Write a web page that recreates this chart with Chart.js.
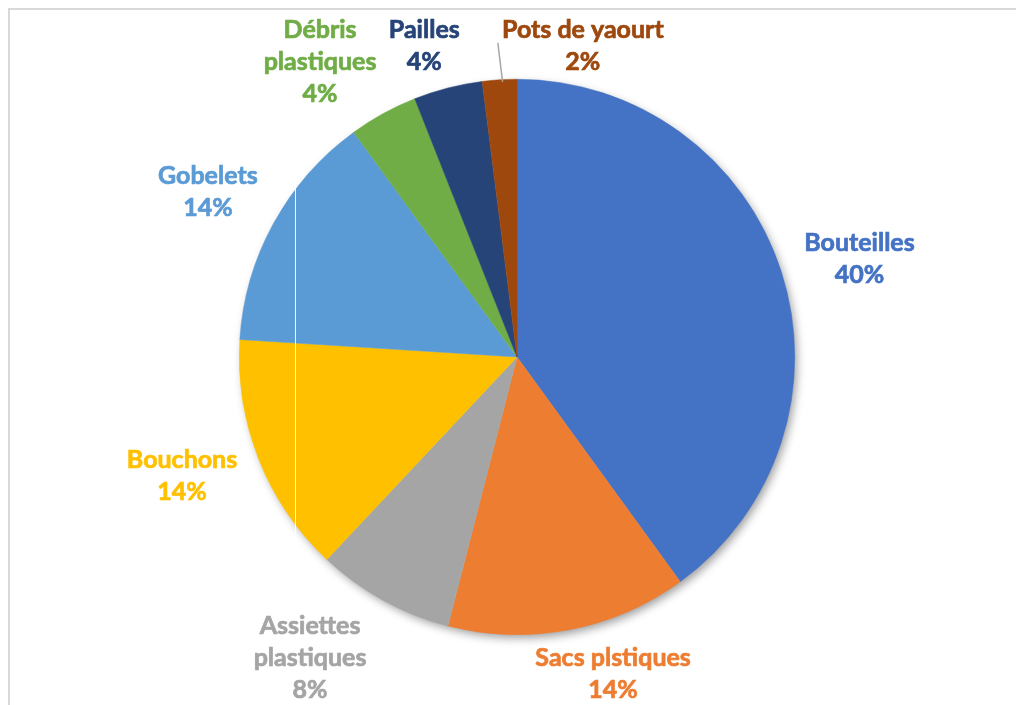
<!DOCTYPE html>
<html>
<head>
<meta charset="utf-8">
<script src="https://cdn.jsdelivr.net/npm/chart.js@4"></script>
<style>
  html, body { margin: 0; padding: 0; background: #fff; }
  #wrap { width: 1016px; height: 705px; position: relative; }
</style>
</head>
<body>
<div id="wrap"><canvas id="pie"></canvas></div>
<script>
const categories = ['Bouteilles', 'Sacs plstiques', 'Assiettes plastiques', 'Bouchons', 'Gobelets', 'Débris plastiques', 'Pailles', 'Pots de yaourt'];
const shares = [40, 14, 8, 14, 14, 4, 4, 2];
const sliceColors = ['#4472C4', '#ED7D31', '#A5A5A5', '#FFC000', '#5B9BD5', '#70AD47', '#264478', '#9E480E'];

// lignes de chaque étiquette
const labelLines = [
    ['Bouteilles'],
    ['Sacs plstiques'],
    ['Assiettes', 'plastiques'],
    ['Bouchons'],
    ['Gobelets'],
    ['Débris', 'plastiques'],
    ['Pailles'],
    ['Pots de yaourt']
];
// décalage des étiquettes (px) par rapport à la position par défaut
const labelShift = [[7, 11], [30, -30], [-37, -8], [-7, -11], [0, 5], [-27, 14], [-5, 31], [88, 41]];

const ctx = document.getElementById('pie').getContext('2d');

// cadre gris + ombre du camembert
const decor = {
    id: 'decor',
    beforeDatasetsDraw(chart) {
        const c = chart.ctx;
        const arc = chart.getDatasetMeta(0).data[0];
        c.save();
        c.strokeStyle = '#d9d9d9';
        c.lineWidth = 2;
        c.strokeRect(9, 9, 1200, 1200);
        c.shadowColor = 'rgba(0,0,0,0.4)';
        c.shadowBlur = 10;
        c.shadowOffsetX = 3;
        c.shadowOffsetY = 4;
        c.fillStyle = '#fff';
        c.beginPath();
        c.arc(arc.x, arc.y, arc.outerRadius - 1, 0, Math.PI * 2);
        c.fill();
        c.restore();
    },
    afterDatasetsDraw(chart) {
        const c = chart.ctx;
        const meta = chart.getDatasetMeta(0);
        const total = shares.reduce((a, b) => a + b, 0);

        // fine ligne blanche verticale
        c.save();
        c.strokeStyle = 'rgba(255,255,255,0.9)';
        c.lineWidth = 1;
        c.beginPath();
        c.moveTo(295.5, 120);
        c.lineTo(295.5, 560);
        c.stroke();
        c.restore();

        c.save();
        c.font = 'bold 25px Lato';
        c.textAlign = 'center';
        c.textBaseline = 'middle';
        c.lineWidth = 0.7;
        const lh = 32;
        meta.data.forEach((arc, i) => {
            const mid = (arc.startAngle + arc.endAngle) / 2;
            const d = arc.outerRadius + 75;
            const x = arc.x + Math.cos(mid) * d + labelShift[i][0];
            const y = arc.y + Math.sin(mid) * d + labelShift[i][1];
            const lines = labelLines[i].concat([Math.round(shares[i] / total * 100) + '%']);
            const y0 = y - (lines.length - 1) * lh / 2;
            c.fillStyle = sliceColors[i];
            c.strokeStyle = sliceColors[i];
            lines.forEach((t, k) => {
                c.fillText(t, x, y0 + k * lh);
                c.strokeText(t, x, y0 + k * lh);
            });

            // trait de rappel pour la petite part
            if (i === 7) {
                c.strokeStyle = '#a6a6a6';
                c.lineWidth = 1.5;
                c.beginPath();
                c.moveTo(arc.x + Math.cos(mid) * arc.outerRadius + 3, arc.y + Math.sin(mid) * arc.outerRadius + 2);
                c.lineTo(x - 85, y - 3);
                c.stroke();
            }
        });
        c.restore();
    }
};

new Chart(ctx, {
    type: 'pie',
    data: {
        labels: categories,
        datasets: [{
            data: shares,
            backgroundColor: sliceColors,
            borderColor: sliceColors,
            borderWidth: 0.5,
            hoverOffset: 0
        }]
    },
    options: {
        responsive: true,
        maintainAspectRatio: false,
        animation: false,
        layout: { padding: { top: 79, bottom: 70, left: 200, right: 182 } },
        plugins: {
            legend: { display: false },
            tooltip: { enabled: false }
        }
    },
    plugins: [decor]
});
</script>
</body>
</html>
